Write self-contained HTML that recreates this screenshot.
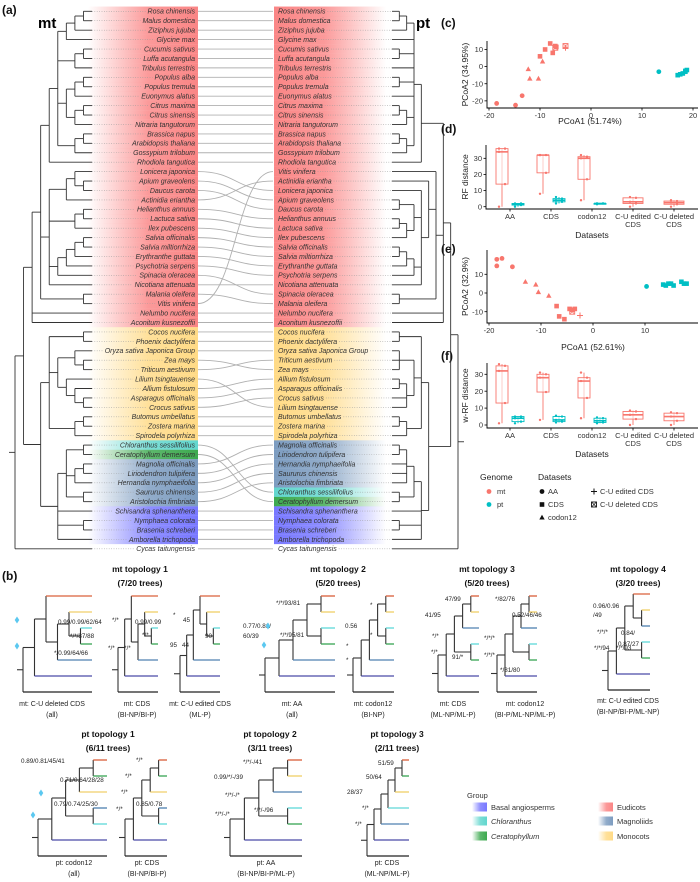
<!DOCTYPE html>
<html><head><meta charset="utf-8">
<style>
html,body{margin:0;padding:0;background:#fff;}
svg{display:block;font-family:"Liberation Sans",sans-serif;}
.sp{font-style:italic;font-size:7px;fill:#333;}
.tk{font-size:7.5px;fill:#333;}
.al{font-size:8.5px;fill:#222;}
.pl{font-size:12px;font-weight:bold;fill:#111;}
.ti{font-size:8.5px;font-weight:bold;fill:#111;}
.cap{font-size:7px;fill:#222;}
.ann{font-size:6.3px;fill:#222;}
</style></head>
<body>
<svg id="fig" width="700" height="882" viewBox="0 0 700 882">
<defs id="defs"></defs>
<text class="pl" x="2" y="14">(a)</text>
<text x="38" y="28" style="font-size:15px;font-weight:bold">mt</text>
<text x="416" y="28" style="font-size:15px;font-weight:bold">pt</text>
<text class="pl" x="441" y="27">(c)</text>
<text class="pl" x="441" y="133">(d)</text>
<text class="pl" x="441" y="253">(e)</text>
<text class="pl" x="441" y="360">(f)</text>
<text class="pl" x="2" y="580">(b)</text>
</svg>
<script>
const NS='http://www.w3.org/2000/svg';
const svg=document.getElementById('fig');
const defs=document.getElementById('defs');
function mk(tag,attrs,parent){const e=document.createElementNS(NS,tag);for(const k in attrs)e.setAttribute(k,attrs[k]);(parent||svg).appendChild(e);return e;}

/* ---------------- Tanglegram data ---------------- */
const mtTaxa=["Rosa chinensis","Malus domestica","Ziziphus jujuba","Glycine max","Cucumis sativus","Luffa acutangula","Tribulus terrestris","Populus alba","Populus tremula","Euonymus alatus","Citrus maxima","Citrus sinensis","Nitraria tangutorum","Brassica napus","Arabidopsis thaliana","Gossypium trilobum","Rhodiola tangutica","Lonicera japonica","Apium graveolens","Daucus carota","Actinidia eriantha","Helianthus annuus","Lactuca sativa","Ilex pubescens","Salvia officinalis","Salvia miltiorrhiza","Erythranthe guttata","Psychotria serpens","Spinacia oleracea","Nicotiana attenuata","Malania oleifera","Vitis vinifera","Nelumbo nucifera","Aconitum kusnezoffii","Cocos nucifera","Phoenix dactylifera","Oryza sativa Japonica Group","Zea mays","Triticum aestivum","Lilium tsingtauense","Allium fistulosum","Asparagus officinalis","Crocus sativus","Butomus umbellatus","Zostera marina","Spirodela polyrhiza","Chloranthus sessilifolius","Ceratophyllum demersum","Magnolia officinalis","Liriodendron tulipifera","Hernandia nymphaeifolia","Saururus chinensis","Aristolochia fimbriata","Schisandra sphenanthera","Nymphaea colorata","Brasenia schreberi","Amborella trichopoda","Cycas taitungensis"];
const ptTaxa=["Rosa chinensis","Malus domestica","Ziziphus jujuba","Glycine max","Cucumis sativus","Luffa acutangula","Tribulus terrestris","Populus alba","Populus tremula","Euonymus alatus","Citrus maxima","Citrus sinensis","Nitraria tangutorum","Brassica napus","Arabidopsis thaliana","Gossypium trilobum","Rhodiola tangutica","Vitis vinifera","Actinidia eriantha","Lonicera japonica","Apium graveolens","Daucus carota","Helianthus annuus","Lactuca sativa","Ilex pubescens","Salvia officinalis","Salvia miltiorrhiza","Erythranthe guttata","Psychotria serpens","Nicotiana attenuata","Spinacia oleracea","Malania oleifera","Nelumbo nucifera","Aconitum kusnezoffii","Cocos nucifera","Phoenix dactylifera","Oryza sativa Japonica Group","Triticum aestivum","Zea mays","Allium fistulosum","Asparagus officinalis","Crocus sativus","Lilium tsingtauense","Butomus umbellatus","Zostera marina","Spirodela polyrhiza","Magnolia officinalis","Liriodendron tulipifera","Hernandia nymphaeifolia","Saururus chinensis","Aristolochia fimbriata","Chloranthus sessilifolius","Ceratophyllum demersum","Schisandra sphenanthera","Nymphaea colorata","Brasenia schreberi","Amborella trichopoda","Cycas taitungensis"];
const mtGroup=["E","E","E","E","E","E","E","E","E","E","E","E","E","E","E","E","E","E","E","E","E","E","E","E","E","E","E","E","E","E","E","E","E","E","M","M","M","M","M","M","M","M","M","M","M","M","C","Ce","Mg","Mg","Mg","Mg","Mg","B","B","B","B","O"];
const ptGroup=["E","E","E","E","E","E","E","E","E","E","E","E","E","E","E","E","E","E","E","E","E","E","E","E","E","E","E","E","E","E","E","E","E","E","M","M","M","M","M","M","M","M","M","M","M","M","Mg","Mg","Mg","Mg","Mg","C","Ce","B","B","B","B","O"];
const mtTree=[[[[[[[[[0,1],2],3],[[4,5],6],[[[7,8],9],[[10,11],12]],[[13,14],15]],16],[[[17,[18,19]],20],[[21,22],23],[[[[24,25],26],27],28],29],[30,31]],32,33],[[[34,35],[[36,[37,38]],[39,[40,[41,42]]]],[[43,44],45]],[[[46,47],[[48,49],50],[51,52]],53,[54,55],56]]],57];
const ptTree=[[[[[[[0,1],2],3,[4,5],6,[7,8],9,[[10,11],12],[[13,14],15]],16],[17,[18,[19,[[20,21],[[22,23],24]],[[[25,26],27],28],29]],[30,31]],32,33],[[[34,35],[[36,37,38],[[39,40],41,42]],[[43,44],45]],[[[[46,47],48,49,50],[51,52]],53,[54,55],56]]],57];

const groupRGB={E:"250,120,120",M:"255,214,120",C:"80,210,200",Ce:"40,160,60",Mg:"110,145,185",B:"105,105,255"};
const rowY=i=>11.3+i*9.43;

// gradients
for(const g in groupRGB){
  const L=mk('linearGradient',{id:'gl'+g,x1:'0',x2:'1',y1:'0',y2:'0'},defs);
  mk('stop',{offset:'0','stop-color':'rgb('+groupRGB[g]+')','stop-opacity':'0'},L);
  mk('stop',{offset:'0.55','stop-color':'rgb('+groupRGB[g]+')','stop-opacity':'0.75'},L);
  mk('stop',{offset:'1','stop-color':'rgb('+groupRGB[g]+')','stop-opacity':'0.9'},L);
  const R=mk('linearGradient',{id:'gr'+g,x1:'1',x2:'0',y1:'0',y2:'0'},defs);
  mk('stop',{offset:'0','stop-color':'rgb('+groupRGB[g]+')','stop-opacity':'0'},R);
  mk('stop',{offset:'0.55','stop-color':'rgb('+groupRGB[g]+')','stop-opacity':'0.75'},R);
  mk('stop',{offset:'1','stop-color':'rgb('+groupRGB[g]+')','stop-opacity':'0.9'},R);
}
const gA=mk('g',{});


// bands
mtGroup.forEach((g,i)=>{ if(g==='O')return;
  const r=mk('rect',{x:88,y:rowY(i)-4.75,width:110,height:9.5,fill:'url(#gl'+g+')'},gA);
  
  
});
ptGroup.forEach((g,i)=>{ if(g==='O')return;
  const r=mk('rect',{x:274,y:rowY(i)-4.75,width:112,height:9.5,fill:'url(#gr'+g+')'},gA);
  
  
});
// connecting lines
mtTaxa.forEach((n,i)=>{
  const j=ptTaxa.indexOf(n); const y1=rowY(i), y2=rowY(j);
  const p=mk('path',{d:`M198,${y1} C236,${y1} 236,${y2} 273,${y2}`,fill:'none',stroke:'#b0b0b0','stroke-width':0.9},gA);
  
  
});
// labels and leaders
const mtTip=92, ptTip=392;
mtTaxa.forEach((n,i)=>{
  const t=mk('text',{x:195,y:rowY(i)+2.4,'text-anchor':'end',class:'sp'},gA);
  t.textContent=n;
  
  
  const w=t.getComputedTextLength();
  const l=mk('line',{x1:mtTip,x2:195-w-2,y1:rowY(i),y2:rowY(i),stroke:'#999','stroke-width':0.6,'stroke-dasharray':'0.8 1.6'},gA);
  
  
});
ptTaxa.forEach((n,i)=>{
  const t=mk('text',{x:278,y:rowY(i)+2.4,class:'sp'},gA);
  t.textContent=n;
  
  
  const w=t.getComputedTextLength();
  const l=mk('line',{x1:278+w+2,x2:ptTip,y1:rowY(i),y2:rowY(i),stroke:'#999','stroke-width':0.6,'stroke-dasharray':'0.8 1.6'},gA);
  
  
});
// generic tree drawer
function heightOf(n){return Array.isArray(n)?1+Math.max(...n.map(heightOf)):0;}
function drawTree(node,yOf,tipX,rootX,dir,parent,colorOf,sw,name){
  const H=heightOf(node), step=(tipX-rootX)/H;
  const xOf=h=>tipX-h*step;
  function rec(n){
    if(!Array.isArray(n)) return {y:yOf(n),x:tipX,leaf:n};
    const kids=n.map(rec); const h=heightOf(n); const x=xOf(h);
    const ys=kids.map(k=>k.y);
    const v=mk('line',{x1:x,x2:x,y1:Math.min(...ys),y2:Math.max(...ys),stroke:'#333','stroke-width':sw},parent);
    
    
    kids.forEach(k=>{
      const c=(k.leaf!==undefined&&colorOf)?colorOf(k.leaf):'#333';
      const hl=mk('line',{x1:x,x2:k.x,y1:k.y,y2:k.y,stroke:c,'stroke-width':(k.leaf!==undefined&&colorOf)?sw*1.2:sw},parent);
      
      
    });
    return {y:(Math.min(...ys)+Math.max(...ys))/2,x:x};
  }
  const r=rec(node);
  const s=mk('line',{x1:r.x,x2:r.x-6*dir,y1:r.y,y2:r.y,stroke:'#333','stroke-width':sw},parent);
  
  
}
drawTree(mtTree,rowY,mtTip,15,1,gA,null,0.9,'mt-tree');
drawTree(ptTree,rowY,ptTip,458,-1,gA,null,0.9,'pt-tree');

/* ---------------- PCoA scatter data ---------------- */
const cX=[-18.5,-14.8,-13.5,-12.3,-12,-10.3,-9.5,-10,-9,-8,-7.5,-7,-6.8,-7,-5,-5,13.3,17,17.5,18,18.5,18.8,18.5];
const cY=[-21.5,-22.5,-17,-1.5,-7,-7,3,6,10,13.5,8,12,11.5,11,12,11,-3,-5,-4.5,-4,-3,-2,-2.5];
const cGenome=["mt","mt","mt","mt","mt","mt","mt","mt","mt","mt","mt","mt","mt","mt","mt","mt","pt","pt","pt","pt","pt","pt","pt"];
const cSet=["AA","AA","AA","codon12","codon12","codon12","codon12","CDS","CDS","CDS","CDS","CDS","CDS","CUdel","CUdel","CUed","AA","CDS","CDS","CDS","CDS","CDS","CDS"];
const eX=[-18.5,-17.5,-18.5,-15.5,-13,-11,-10.5,-8.5,-7,-6.5,-5.5,-4.5,-4,-3.5,-4,-2.5,10.3,13.5,14,14.5,15,15.5,17,17.5,18];
const eY=[18,18.5,14.5,14,6,4.5,0.5,-1.5,-7,-12.5,-14,-8.5,-9,-8.5,-10,-12,3.5,4.5,4,5,5,4,6,5,5];
const eGenome=["mt","mt","mt","mt","mt","mt","mt","mt","mt","mt","mt","mt","mt","mt","mt","mt","pt","pt","pt","pt","pt","pt","pt","pt","pt"];
const eSet=["AA","AA","AA","AA","codon12","codon12","codon12","codon12","CDS","CDS","CDS","CDS","CDS","CDS","CUdel","CUed","AA","CDS","CDS","CDS","CDS","CDS","CDS","CDS","CDS"];
const cXTicks=[-20,-10,0,10,20], cYTicks=[-20,-10,0,10];
const eXTicks=[-20,-10,0,10], eYTicks=[-10,0,10];
const genomeColor={mt:"#f8766d",pt:"#00bfc4"};

function marker(set,x,y,col,parent){
  let e;
  if(set==="AA") e=mk('circle',{cx:x,cy:y,r:2.4,fill:col},parent);
  else if(set==="CDS") e=mk('rect',{x:x-2.3,y:y-2.3,width:4.6,height:4.6,fill:col},parent);
  else if(set==="codon12") e=mk('path',{d:`M${x},${y-2.8} L${x+2.7},${y+2} L${x-2.7},${y+2} Z`,fill:col},parent);
  else if(set==="CUed") e=mk('path',{d:`M${x-3},${y} H${x+3} M${x},${y-3} V${y+3}`,stroke:col,'stroke-width':1},parent);
  else {e=mk('g',{},parent);mk('rect',{x:x-2.5,y:y-2.5,width:5,height:5,fill:'none',stroke:col,'stroke-width':0.9},e);mk('path',{d:`M${x-2.5},${y-2.5} L${x+2.5},${y+2.5} M${x+2.5},${y-2.5} L${x-2.5},${y+2.5}`,stroke:col,'stroke-width':0.7},e);}
  return e;
}
function scatter(o){
  const g=mk('g',{});
  
  
  const sx=v=>o.x0+v*o.kx, sy=v=>o.y0-v*o.ky;
  mk('path',{d:`M${o.axX},${o.top} V${o.axY} H${o.right}`,fill:'none',stroke:'#000','stroke-width':0.9},g);
  o.xt.forEach(v=>{const x=sx(v);mk('line',{x1:x,x2:x,y1:o.axY,y2:o.axY+2.5,stroke:'#000','stroke-width':0.8},g);
    const t=mk('text',{x:x,y:o.axY+10,'text-anchor':'middle',class:'tk'},g);t.textContent=v;
    
    });
  o.yt.forEach(v=>{const y=sy(v);mk('line',{x1:o.axX-2.5,x2:o.axX,y1:y,y2:y,stroke:'#000','stroke-width':0.8},g);
    const t=mk('text',{x:o.axX-4,y:y+2.6,'text-anchor':'end',class:'tk'},g);t.textContent=v;
    
    });
  o.xs.forEach((v,i)=>{const m=marker(o.sets[i],sx(v),sy(o.ys[i]),genomeColor[o.gen[i]],g);
    
    });
  const xl=mk('text',{x:o.xlx,y:o.xly,'text-anchor':'middle',class:'al'},g);xl.textContent=o.xlab;
  
  
  const yl=mk('text',{x:0,y:0,'text-anchor':'middle',class:'al',transform:`translate(${o.ylx},${(o.top+o.axY)/2}) rotate(-90)`},g);yl.textContent=o.ylab;
  
  
}
scatter({name:'pcoa-c',x0:591,kx:5.1,y0:66.6,ky:1.713,axX:487,axY:108,top:41,right:698,xt:cXTicks,yt:cYTicks,xs:cX,ys:cY,gen:cGenome,sets:cSet,xlab:'PCoA1 (51.74%)',xlx:590,xly:124,ylab:'PCoA2 (34.95%)',ylx:468});
scatter({name:'pcoa-e',x0:593,kx:5.2,y0:293,ky:1.87,axX:487,axY:323,top:250,right:698,xt:eXTicks,yt:eYTicks,xs:eX,ys:eY,gen:eGenome,sets:eSet,xlab:'PCoA1 (52.61%)',xlx:593,xly:350,ylab:'PCoA2 (32.9%)',ylx:468});

/* ---------------- Box plot data ---------------- */
const boxCategories=["AA","CDS","codon12","C-U edited\nCDS","C-U deleted\nCDS"];
const yTicksBox=[0,10,20,30];
const dMt=[[0,14,34,36,36],[8,21,32,32,32],[4,17,30,31,32],[0,2,3,5.5,6],[0,1.5,2.5,3.5,4]];
const dPt=[[0,1,1.5,2,2],[2,3,4,5,6],[1.5,2,2,2,2],null,null];
const fMt=[[1,13,32,35,36],[3,19.5,28,30,31],[4,16,26,28,31],[0,3.5,6,8,8.5],[0,2.5,5,7,7.5]];
const fPt=[[1,2,4,5,5],[1.5,2,3,5,5.5],[1,1.5,2.5,4,4.5],null,null];
function boxplot(o){
  const g=mk('g',{});
  
  
  const sy=v=>o.y0-v*o.ky, cx=i=>510+i*41;
  mk('path',{d:`M${o.axX},${o.top} V${o.axY} H698`,fill:'none',stroke:'#000','stroke-width':0.9},g);
  yTicksBox.forEach(v=>{const y=sy(v);mk('line',{x1:o.axX-2.5,x2:o.axX,y1:y,y2:y,stroke:'#000','stroke-width':0.8},g);
    const t=mk('text',{x:o.axX-4,y:y+2.6,'text-anchor':'end',class:'tk'},g);t.textContent=v;
    
    });
  boxCategories.forEach((c,i)=>{
    mk('line',{x1:cx(i),x2:cx(i),y1:o.axY,y2:o.axY+2.5,stroke:'#000','stroke-width':0.8},g);
    c.split('\n').forEach((s,k)=>{const t=mk('text',{x:cx(i),y:o.axY+10+k*8,'text-anchor':'middle',class:'tk'},g);t.textContent=s;
      
      });
    const pairs=[[o.mt[i],'#f8766d'],[o.pt[i],'#00bfc4']].filter(p=>p[0]);
    pairs.forEach((p,k)=>{
      const st=p[0], col=p[1];
      const w=pairs.length===2?12:20, x=pairs.length===2?cx(i)+(k===0?-8:8):cx(i);
      const b=mk('g',{},g);
      
      
      mk('line',{x1:x,x2:x,y1:sy(st[0]),y2:sy(st[4]),stroke:col,'stroke-width':0.9},b);
      mk('rect',{x:x-w/2,y:sy(st[3]),width:w,height:Math.max(0.8,sy(st[1])-sy(st[3])),fill:'#fff','fill-opacity':0.6,stroke:col,'stroke-width':0.9},b);
      mk('line',{x1:x-w/2,x2:x+w/2,y1:sy(st[2]),y2:sy(st[2]),stroke:col,'stroke-width':1.6},b);
      [st[0],st[1],st[2],st[3],st[4]].forEach((v,q)=>mk('circle',{cx:x+(q%2?3:-3),cy:sy(v),r:1.2,fill:col},b));
    });
  });
  const xl=mk('text',{x:592,y:o.xly,'text-anchor':'middle',class:'al'},g);xl.textContent='Datasets';
  
  
  const yl=mk('text',{x:0,y:0,'text-anchor':'middle',class:'al',transform:`translate(468,${(o.top+o.axY)/2}) rotate(-90)`},g);yl.textContent=o.ylab;
  
  
}
boxplot({name:'rf-boxplot-d',y0:206.7,ky:1.613,axX:486,axY:209,top:145,mt:dMt,pt:dPt,xly:238,ylab:'RF distance'});
boxplot({name:'wrf-boxplot-f',y0:425,ky:1.69,axX:487,axY:428,top:363,mt:fMt,pt:fPt,xly:457,ylab:'w-RF distance'});

/* legend genome/datasets */
const lg=mk('g',{});


[['Genome',480,480,'al'],['mt',497,494,'tk'],['pt',497,507,'tk'],['Datasets',538,480,'al'],['AA',548,494,'tk'],['CDS',548,507,'tk'],['codon12',548,520,'tk'],['C-U edited CDS',600,494,'tk'],['C-U deleted CDS',600,507,'tk']].forEach(a=>{
  const t=mk('text',{x:a[1],y:a[2],class:a[3]},lg);t.textContent=a[0];
  
  });
mk('circle',{cx:489,cy:491.5,r:2.4,fill:'#f8766d'},lg);
mk('circle',{cx:489,cy:504.5,r:2.4,fill:'#00bfc4'},lg);
marker('AA',542,491.5,'#111',lg);marker('CDS',542,504.5,'#111',lg);marker('codon12',542,517.5,'#111',lg);
marker('CUed',594,491.5,'#111',lg);marker('CUdel',594,504.5,'#111',lg);

/* ---------------- Panel b mini trees ---------------- */
const leafCol={E:'#d9603b',M:'#f0cf6a',C:'#5fd8d8',Ce:'#3aa655',Mg:'#4f80b0',B:'#4a4aa8',O:'#222'};
const miniTrees=[
 {x0:23,x1:92,top:596,leaves:['E','M','C','Ce','Mg','B','O'],topo:[[[0,[[1,[2,3]],4]],5],6],cap:['mt: C-U deleted CDS','(all)'],cx:52},
 {x0:118,x1:158,top:596,leaves:['E','M','C','Ce','Mg','B','O'],topo:[[[0,[[1,[2,3]],4]],5],6],cap:['mt: CDS','(BI-NP/BI-P)'],cx:137},
 {x0:180,x1:220,top:596,leaves:['E','M','C','Ce','Mg','B','O'],topo:[[[[0,[1,[2,3]]],4],5],6],cap:['mt: C-U edited CDS','(ML-P)'],cx:200},
 {x0:265,x1:335,top:596,leaves:['E','M','C','Ce','Mg','B','O'],topo:[[[[[0,1],[2,3]],4],5],6],cap:['mt: AA','(all)'],cx:292},
 {x0:353,x1:394,top:596,leaves:['E','M','C','Ce','Mg','B','O'],topo:[[[[[0,1],[2,3]],4],5],6],cap:['mt: codon12','(BI-NP)'],cx:373},
 {x0:438,x1:479,top:596,leaves:['E','M','Mg','C','Ce','B','O'],topo:[[[[[0,1],2],[3,4]],5],6],cap:['mt: CDS','(ML-NP/ML-P)'],cx:453},
 {x0:497,x1:537,top:596,leaves:['E','M','Mg','C','Ce','B','O'],topo:[[[[[0,1],2],[3,4]],5],6],cap:['mt: codon12','(BI-P/ML-NP/ML-P)'],cx:525},
 {x0:608,x1:650,top:594,leaves:['E','M','Mg','C','Ce','B','O'],topo:[[[[0,[1,2]],[3,4]],5],6],cap:['mt: C-U edited CDS','(BI-NP/BI-P/ML-NP)'],cx:628,capY:703},
 {x0:38,x1:107,top:760,leaves:['E','Ce','M','Mg','C','B','O'],topo:[[[[[0,1],2],[3,4]],5],6],cap:['pt: codon12','(all)'],cx:74,capY:865},
 {x0:125,x1:167,top:760,leaves:['E','Ce','M','Mg','C','B','O'],topo:[[[[[0,1],2],[3,4]],5],6],cap:['pt: CDS','(BI-NP/BI-P)'],cx:147,capY:865},
 {x0:230,x1:302,top:760,leaves:['E','M','Mg','C','Ce','B','O'],topo:[[[[[0,1],2],[3,4]],5],6],cap:['pt: AA','(BI-NP/BI-P/ML-P)'],cx:266,capY:865},
 {x0:367,x1:409,top:760,leaves:['E','Ce','M','C','Mg','B','O'],topo:[[[[[[0,1],2],3],4],5],6],cap:['pt: CDS','(ML-NP/ML-P)'],cx:387,capY:865}
];
miniTrees.forEach((t,ti)=>{
  const g=mk('g',{});
  
  
  drawTree(t.topo,i=>t.top+i*16,t.x1,t.x0,1,g,i=>leafCol[t.leaves[i]],1.1,'mini-tree');
  const cy=t.capY||706;
  t.cap.forEach((s,k)=>{const c=mk('text',{x:t.cx,y:cy+k*11,'text-anchor':'middle',class:'cap'},g);c.textContent=s;
    
    });
});
const titles=[['mt topology 1','(7/20 trees)',140,572],['mt topology 2','(5/20 trees)',338,572],['mt topology 3','(5/20 trees)',487,572],['mt topology 4','(3/20 trees)',638,572],
 ['pt topology 1','(6/11 trees)',108,737],['pt topology 2','(3/11 trees)',270,737],['pt topology 3','(2/11 trees)',397,737]];
titles.forEach(a=>{[a[0],a[1]].forEach((s,k)=>{const t=mk('text',{x:a[2],y:a[3]+k*14,'text-anchor':'middle',class:'ti'});t.textContent=s;
  
  });});
const anns=[['0.99/0.99/62/64',58,624],['*/*/87/88',70,638],['*/0.99/64/66',54,655],['*/*',112,622],['0.99/0.99',135,624],['*/*',142,637],['*/*',108,650],['*/*',124,650],['*',173,617],['45',183,622],['90',205,638],['95',170,647],['44',182,647],
 ['*/*/93/81',276,605],['0.77/0.81/',243,628],['60/39',243,638],['*/*/95/81',280,637],['0.56',345,628],['*',370,607],['*',370,637],['*',346,648],['*',346,662],
 ['47/99',445,601],['41/95',425,617],['*/*',432,638],['91/*',452,659],['*/*',431,654],['*/82/76',495,601],['0.52/46/46',512,617],['*/*/*',484,640],['*/*/*',484,657],['*/81/80',500,672],
 ['0.96/0.96',593,608],['/49',593,617],['*/*/*',597,634],['0.84/',621,635],['0.87/27',618,646],['*/*/94',594,650],['*/*/93',616,650],
 ['0.89/0.81/45/41',21,763],['0.71/0.64/28/28',60,782],['0.79/0.74/25/30',54,806],['*/*',136,762],['*/*',125,778],['*/*',121,794],['0.85/0.78',136,806],['*/*',116,811],
 ['*/*/-/41',243,764],['0.99/*/-/39',214,779],['*/*/-/*',225,797],['*/*/-/96',254,812],['*/*/-/*',215,816],
 ['51/59',378,765],['50/64',366,779],['28/37',347,794],['*/*',362,810],['*/*',355,826]];
anns.forEach(a=>{const t=mk('text',{x:a[1],y:a[2],class:'ann'});t.textContent=a[0];
  
  });
[[17,620],[17,646],[268,626],[264,645],[41,793],[33,815]].forEach(p=>{const d=mk('path',{d:`M${p[0]},${p[1]-3.5} L${p[0]+2.3},${p[1]} L${p[0]},${p[1]+3.5} L${p[0]-2.3},${p[1]} Z`,fill:'#5bc8f0'});
  
  });

/* group legend */
const gl=mk('g',{});


const gt=mk('text',{x:467,y:798,class:'tk',style:'font-size:7.5px'},gl);gt.textContent='Group';
[['B','Basal angiosperms',472,807,false],['C','Chloranthus',472,821,true],['Ce','Ceratophyllum',472,836,true],['E','Eudicots',598,807,false],['Mg','Magnoliids',598,821,false],['M','Monocots',598,836,false]].forEach(a=>{
  const r=mk('rect',{x:a[2],y:a[3]-4.5,width:15,height:9,fill:'url(#gl'+a[0]+')'},gl);
  
  
  const t=mk('text',{x:a[2]+19,y:a[3]+2.8,class:'tk',style:'font-size:7.5px'+(a[4]?';font-style:italic':'')},gl);t.textContent=a[1];
  
  
});
</script>
</body></html>
